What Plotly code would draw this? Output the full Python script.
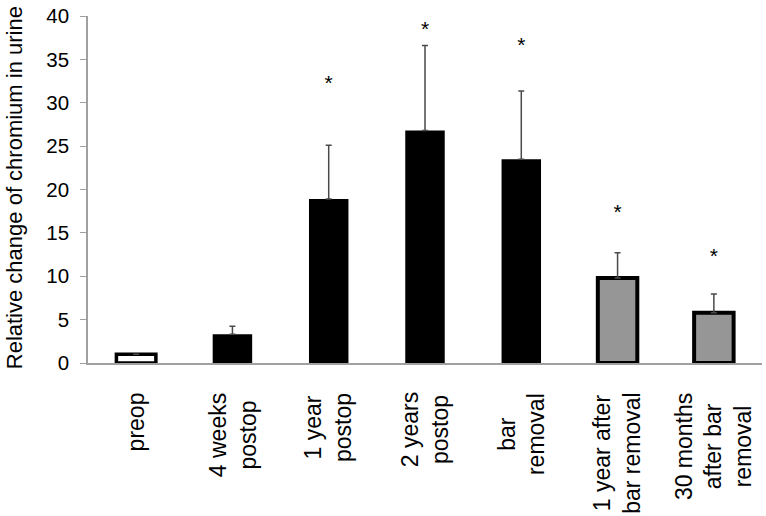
import plotly.graph_objects as go

categories = ["preop", "4 weeks<br>postop", "1 year<br>postop", "2 years<br>postop",
              "bar<br>removal", "1 year after<br>bar removal", "30 months<br>after bar<br>removal"]
values = [1.0, 3.3, 18.9, 26.8, 23.5, 9.8, 5.8]
err_upper = [0.0, 0.95, 6.2, 9.8, 7.85, 2.9, 2.15]
star_y = [None, None, 32.1, 38.3, 36.4, 17.2, 12.1]
fills = ["white", "black", "black", "black", "black", "#969696", "#969696"]
border_w = [3.5, 0, 0, 0, 0, 4, 4]

FONT = "Liberation Sans, Arial, sans-serif"
x_idx = list(range(len(categories)))

fig = go.Figure()
fig.add_trace(go.Bar(
    x=x_idx, y=values, width=0.41,
    marker=dict(color=fills, line=dict(color="black", width=border_w)),
    error_y=dict(type="data", symmetric=False, array=err_upper,
                 arrayminus=[0] * len(values), color="#4a4a4a", thickness=1.5, width=3,
                 visible=True),
    showlegend=False, hoverinfo="skip",
))
fig.add_trace(go.Scatter(
    x=[i for i, s in zip(x_idx, star_y) if s is not None],
    y=[s for s in star_y if s is not None],
    mode="text", text=["*"] * sum(s is not None for s in star_y),
    textfont=dict(size=21, color="black", family=FONT),
    showlegend=False, hoverinfo="skip",
))

annotations = []
for i, c in enumerate(categories):
    annotations.append(dict(
        x=i, y=-0.08, xref="x", yref="paper", text=c, showarrow=False,
        textangle=-90, xanchor="center", yanchor="top", align="center",
        font=dict(size=23, color="black", family=FONT),
    ))
annotations.append(dict(
    x=-0.1096, y=0.504, xref="paper", yref="paper",
    text="Relative change of chromium in urine", showarrow=False,
    textangle=-90, xanchor="center", yanchor="middle",
    font=dict(size=22, color="black", family=FONT),
))

fig.update_layout(
    width=766, height=516,
    margin=dict(l=88, r=4, t=8, b=153),
    paper_bgcolor="white", plot_bgcolor="white",
    annotations=annotations,
    xaxis=dict(range=[-0.5, 6.5], showticklabels=False, showgrid=False,
               showline=True, linecolor="#a0a0a0", linewidth=1.5, ticks="",
               zeroline=False, fixedrange=True),
    yaxis=dict(range=[0, 40], dtick=5, showgrid=False, zeroline=False,
               showline=True, linecolor="#a0a0a0", linewidth=1.5,
               ticks="outside", ticklen=6, tickcolor="#a0a0a0",
               ticklabelstandoff=7, ticklabeloverflow="allow",
               tickfont=dict(size=20.5, color="black", family=FONT)),
)
fig.write_html("out.html", config={"displayModeBar": False},
               post_script="document.body.style.margin='0';document.body.style.padding='0';")
